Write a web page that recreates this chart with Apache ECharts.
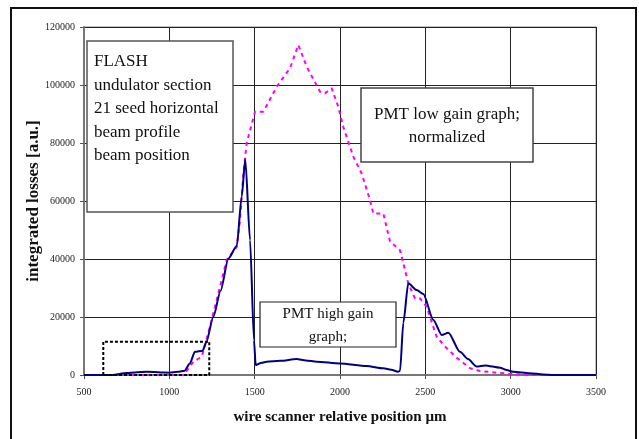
<!DOCTYPE html>
<html>
<head>
<meta charset="utf-8">
<script src="https://cdn.jsdelivr.net/npm/echarts@6/dist/echarts.min.js"></script>
<style>
    html, body { margin: 0; padding: 0; background: #fff; }
    #chartData { width: 639px; height: 439px; }
</style>
</head>
<body>
<div id="chartData"></div>
<script>
// axis ticks
var xTicks = [500, 1000, 1500, 2000, 2500, 3000, 3500];
var yTicks = [0, 20000, 40000, 60000, 80000, 100000, 120000];

// PMT high gain graph (solid navy)
var hgX = [500, 600, 664, 750, 800, 870, 950, 1000, 1050, 1090, 1120, 1150, 1195, 1215, 1258, 1300, 1346, 1395, 1424, 1445,
    1473, 1496, 1506, 1541, 1570, 1650, 1746, 1800, 1863, 2000, 2156, 2254, 2300, 2340, 2352, 2371, 2400, 2449, 2488,
    2547, 2596, 2635, 2703, 2750, 2801, 2850, 2938, 2977, 3015, 3113, 3191, 3250, 3500];
var hgY = [0, 0, 0, 700, 900, 1100, 900, 800, 1100, 1500, 4000, 8000, 8400, 11000, 20100, 29000, 40200, 44500, 61500, 74400,
    46500, 12000, 3400, 4200, 4600, 4900, 5500, 5000, 4600, 4000, 3100, 2300, 1800, 1100, 1500, 18000, 31600, 29300, 27900,
    19000, 13800, 14600, 8000, 5500, 2900, 3300, 2500, 1700, 1100, 600, 200, 0, 0];

// PMT low gain graph, normalized (dotted magenta)
var lgX = [500, 1000, 1086, 1105, 1141, 1190, 1238, 1297, 1336, 1395, 1414, 1434, 1453, 1502, 1551, 1629, 1707, 1756,
    1805, 1883, 1912, 1951, 1990, 2019, 2078, 2127, 2176, 2195, 2254, 2293, 2351, 2381, 2400, 2439, 2469, 2508, 2566,
    2615, 2683, 2762, 2820, 2918, 3014, 3100, 3500];
var lgY = [0, 0, 0, 1700, 4600, 6300, 16700, 30400, 39700, 44200, 53400, 69500, 79900, 90800, 90800, 99400, 105800, 113800,
    106300, 97700, 97100, 98900, 92500, 85600, 75300, 69500, 60300, 55700, 55700, 46000, 43100, 36200, 31600, 26400, 26400, 23500, 13200,
    9800, 6000, 2300, 1400, 800, 300, 0, 0];

// dashed zoom box in data units
var boxX = [613, 613, 1234, 1234, 613];
var boxY = [0, 11500, 11500, 0, 0];

var zip = function (xs, ys) {
    var out = [];
    for (var i = 0; i < xs.length; i++) {
        out.push([xs[i], ys[i]]);
    }
    return out;
};

var serif = "'Liberation Serif', 'Times New Roman', serif";

var myChart = echarts.init(document.getElementById('chartData'));

var option = {
    backgroundColor: '#fff',
    animation: false,
    grid: {
        left: 84,
        right: 43,
        top: 27,
        bottom: 64,
        show: true,
        borderColor: '#888',
        borderWidth: 1,
        outerBoundsMode: 'none'
    },
    xAxis: {
        type: 'value',
        min: xTicks[0],
        max: xTicks[xTicks.length - 1],
        interval: xTicks[1] - xTicks[0],
        name: 'wire scanner relative position µm',
        nameLocation: 'middle',
        nameGap: 35,
        nameMoveOverlap: false,
        nameTextStyle: {fontFamily: serif, fontWeight: 'bold', fontSize: 15, color: '#111'},
        axisLine: {lineStyle: {color: '#777', width: 2}},
        axisTick: {show: true, inside: false, length: 4, lineStyle: {color: '#555'}},
        axisLabel: {
            fontFamily: serif, fontSize: 10, color: '#222', margin: 12,
            formatter: function (v) { return String(v); }
        },
        splitLine: {show: true, lineStyle: {color: '#222', width: 1}}
    },
    yAxis: {
        type: 'value',
        min: yTicks[0],
        max: yTicks[yTicks.length - 1],
        interval: yTicks[1] - yTicks[0],
        name: 'integrated losses [a.u.]',
        nameLocation: 'middle',
        nameGap: 42,
        nameMoveOverlap: false,
        nameTextStyle: {fontFamily: serif, fontWeight: 'bold', fontSize: 17, color: '#111'},
        axisLine: {show: true, lineStyle: {color: '#777', width: 2}},
        axisTick: {show: true, inside: false, length: 4, lineStyle: {color: '#555'}},
        axisLabel: {
            fontFamily: serif, fontSize: 10, color: '#222', margin: 9,
            formatter: function (v) { return String(v); }
        },
        splitLine: {show: true, lineStyle: {color: '#222', width: 1}}
    },
    series: [
        {
            name: 'PMT low gain',
            type: 'line',
            data: zip(lgX, lgY),
            symbol: 'none',
            lineStyle: {color: '#ff00ff', width: 2, type: [4, 4]},
            z: 3
        },
        {
            name: 'PMT high gain',
            type: 'line',
            data: zip(hgX, hgY),
            symbol: 'none',
            smooth: 0.25,
            smoothMonotone: 'x',
            lineStyle: {color: '#000080', width: 2},
            z: 4
        },
        {
            name: 'zoom box',
            type: 'line',
            data: zip(boxX, boxY),
            symbol: 'none',
            lineStyle: {color: '#000', width: 2, type: [3, 2]},
            z: 5
        }
    ],
    graphic: [
        // outer chart frame
        {type: 'rect', shape: {x: 11, y: 8, width: 625, height: 445}, style: {fill: 'none', stroke: '#111', lineWidth: 2}, z: 1},
        // text box 1
        {type: 'rect', shape: {x: 87, y: 41, width: 146, height: 171}, style: {fill: '#fff', stroke: '#555', lineWidth: 1.5}, z: 100},
        {
            type: 'text', left: 94, top: 50, z: 101,
            style: {
                text: 'FLASH\nundulator section\n21 seed horizontal\nbeam profile\nbeam position',
                font: '17px ' + serif, fill: '#111', lineHeight: 23.5
            }
        },
        // text box 2
        {type: 'rect', shape: {x: 361, y: 88, width: 172, height: 74}, style: {fill: '#fff', stroke: '#444', lineWidth: 1.5}, z: 100},
        {
            type: 'text', x: 447, y: 126, z: 101,
            style: {
                text: 'PMT low gain graph;\nnormalized',
                font: '17px ' + serif, fill: '#111', lineHeight: 23.5,
                textAlign: 'center', textVerticalAlign: 'middle'
            }
        },
        // text box 3
        {type: 'rect', shape: {x: 260, y: 302, width: 136, height: 45}, style: {fill: '#fff', stroke: '#222', lineWidth: 1.2}, z: 100},
        {
            type: 'text', x: 328, y: 326, z: 101,
            style: {
                text: 'PMT high gain\ngraph;',
                font: '15px ' + serif, fill: '#111', lineHeight: 23,
                textAlign: 'center', textVerticalAlign: 'middle'
            }
        }
    ]
};

myChart.setOption(option);
</script>
</body>
</html>
